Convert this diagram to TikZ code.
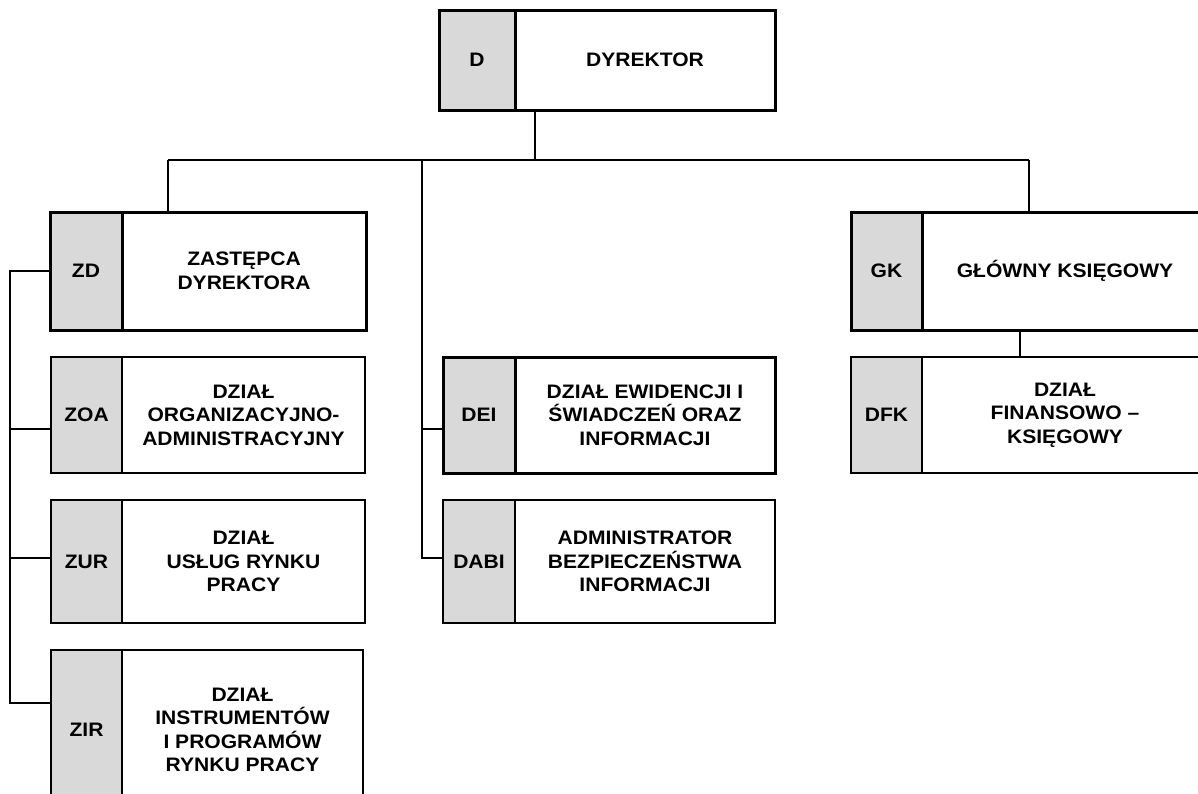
\documentclass[tikz,border=0pt]{standalone}
\usepackage{fontspec}
\setmainfont{Liberation Sans}[FakeStretch=1.08]
\definecolor{codegrey}{RGB}{217,217,217}
\tikzset{
  codebox/.style={draw, fill=codegrey, anchor=north west, inner sep=0pt, outer sep=0pt, align=center},
  namebox/.style={draw, anchor=north west, inner sep=0pt, outer sep=0pt, align=center},
  heavy/.style={line width=3pt},
  light/.style={line width=2pt},
  link/.style={line width=2pt}
}
\begin{document}
\begin{tikzpicture}[x=1pt, y=-1pt, font=\fontsize{19.5}{23.5}\selectfont\bfseries]
	\path[use as bounding box, fill=white] (0,0) rectangle (1198,793);
	\clip (0,0) rectangle (1198,793);
	% director
	\node[codebox, heavy, minimum width=76pt, minimum height=100pt] (d) at (439,10) {D};
	\node[namebox, heavy, minimum width=260pt, minimum height=100pt] (dname) at (d.north east) {DYREKTOR};
	% deputy and his departments
	\node[codebox, heavy, minimum width=72pt, minimum height=118pt] (zd) at (50,212) {ZD};
	\node[namebox, heavy, minimum width=244pt, minimum height=118pt] (zdname) at (zd.north east) {ZASTĘPCA\\DYREKTORA};
	\node[codebox, light, minimum width=71pt, minimum height=116pt] (zoa) at (51,357) {ZOA};
	\node[namebox, light, minimum width=243pt, minimum height=116pt] (zoaname) at (zoa.north east) {DZIAŁ\\ORGANIZACYJNO-\\ADMINISTRACYJNY};
	\node[codebox, light, minimum width=71pt, minimum height=123pt] (zur) at (51,500) {ZUR};
	\node[namebox, light, minimum width=243pt, minimum height=123pt] (zurname) at (zur.north east) {DZIAŁ\\USŁUG RYNKU\\PRACY};
	\node[codebox, light, minimum width=71pt, minimum height=160pt] (zir) at (51,650) {ZIR};
	\node[namebox, light, minimum width=241pt, minimum height=160pt] (zirname) at (zir.north east) {DZIAŁ\\INSTRUMENTÓW\\I PROGRAMÓW\\RYNKU PRACY};
	% middle column
	\node[codebox, heavy, minimum width=72pt, minimum height=116pt] (dei) at (443,357) {DEI};
	\node[namebox, heavy, minimum width=260pt, minimum height=116pt] (deiname) at (dei.north east) {DZIAŁ EWIDENCJI I\\ŚWIADCZEŃ ORAZ\\INFORMACJI};
	\node[codebox, light, minimum width=72pt, minimum height=123pt] (dabi) at (443,500) {DABI};
	\node[namebox, light, minimum width=260pt, minimum height=123pt] (dabiname) at (dabi.north east) {ADMINISTRATOR\\BEZPIECZEŃSTWA\\INFORMACJI};
	% chief accountant
	\node[codebox, heavy, minimum width=71pt, minimum height=118pt] (gk) at (851,212) {GK};
	\node[namebox, heavy, minimum width=286pt, minimum height=118pt] (gkname) at (gk.north east) {GŁÓWNY KSIĘGOWY};
	\node[codebox, light, minimum width=71pt, minimum height=116pt] (dfk) at (851,357) {DFK};
	\node[namebox, light, minimum width=286pt, minimum height=116pt] (dfkname) at (dfk.north east) {DZIAŁ\\FINANSOWO –\\KSIĘGOWY};
	% connectors
	\coordinate (top) at (535,160);
	\coordinate (busL) at (168,160);
	\coordinate (busM) at (422,160);
	\coordinate (busR) at (1029,160);
	\coordinate (spineL) at (10,271);
	\draw[link] (dname.south -| top) -- (top);
	\draw[link] (busL) -- (busR);
	\draw[link] (busL) -- (busL |- zdname.north);
	\draw[link] (busR) -- (busR |- gkname.north);
	\draw[link] (busM) |- ([yshift=-14pt]dei.west);
	\draw[link] (busM) |- ([yshift=4pt]dabi.west);
	\draw[link] (zd.west) -- (spineL) |- ([yshift=-14pt]zoa.west);
	\draw[link] (spineL) |- ([yshift=4pt]zur.west);
	\draw[link] (spineL) |- ([yshift=27pt]zir.west);
	\draw[link] ([xshift=-45pt]gkname.south) -- ([xshift=-45pt]dfkname.north);
\end{tikzpicture}
\end{document}
